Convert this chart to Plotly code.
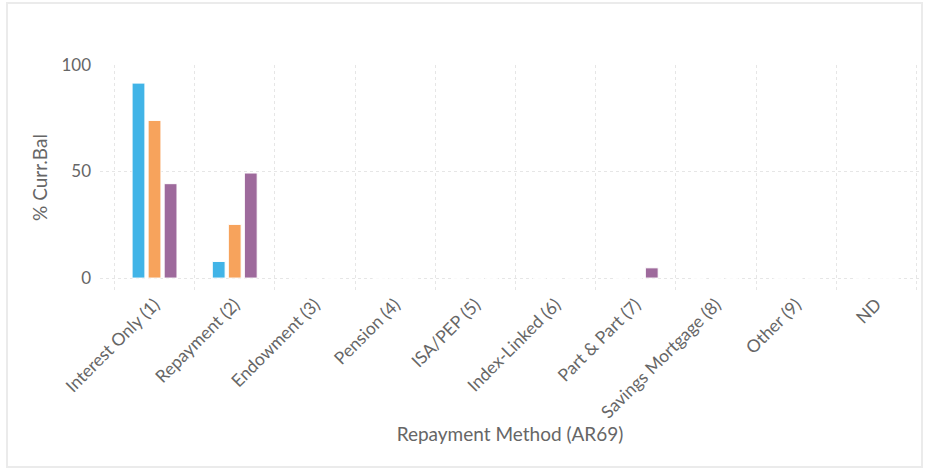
import plotly.graph_objects as go

categories = ["Interest Only (1)", "Repayment (2)", "Endowment (3)", "Pension (4)", "ISA/PEP (5)",
              "Index-Linked (6)", "Part & Part (7)", "Savings Mortgage (8)", "Other (9)", "ND"]
series_a = [91.5, 7.8, 0, 0, 0, 0, 0, 0, 0, 0]
series_b = [74.0, 25.2, 0, 0, 0, 0, 0, 0, 0, 0]
series_c = [44.3, 49.3, 0, 0, 0, 0, 4.8, 0, 0, 0]
series_names = ["Series 1", "Series 2", "Series 3"]
colors = ["#41B4E7", "#F7A35C", "#9E6A9C"]

fig = go.Figure()
for name, vals, col in zip(series_names, [series_a, series_b, series_c], colors):
    fig.add_trace(go.Bar(x=categories, y=vals, name=name,
                         marker=dict(color=col, line=dict(color="#ffffff", width=1))))

grid = "#e6e6e6"
L, R, T, B = 100, 920, 65, 290
fig.update_layout(
    width=928, height=468,
    paper_bgcolor="white", plot_bgcolor="white",
    font=dict(family="Lato, sans-serif", color="#666666", size=15),
    showlegend=False,
    barmode="group", bargap=0.4, bargroupgap=0.2,
    margin=dict(l=L, r=928 - R, t=T, b=468 - B),
    xaxis=dict(range=[-0.68, 9.545], tickson="boundaries", showgrid=True,
               gridcolor=grid, griddash="dot", tickangle=-45, ticks="",
               showline=False, zeroline=False, automargin=False,
               title=dict(text="Repayment Method (AR69)", font=dict(size=19, color="#666666"), standoff=6),
               tickfont=dict(size=17.5, color="#666666")),
    yaxis=dict(range=[-5.6, 100], tickvals=[0, 50, 100], showgrid=True,
               gridcolor=grid, griddash="dot", zeroline=False, showline=False,
               ticklabelstandoff=8, automargin=False,
               title=dict(text="% Curr.Bal", font=dict(size=19, color="#666666"), standoff=8),
               tickfont=dict(size=17, color="#666666")),
    shapes=[dict(type="rect", xref="paper", yref="paper",
                 x0=(7 - L) / (R - L), x1=(922 - L) / (R - L),
                 y0=(B - 467) / (B - T), y1=(B - 3) / (B - T),
                 line=dict(color="#ebebeb", width=2), layer="below")],
)
fig.write_html("out.html", config={"displayModeBar": False},
               post_script="document.body.style.margin='0';")
